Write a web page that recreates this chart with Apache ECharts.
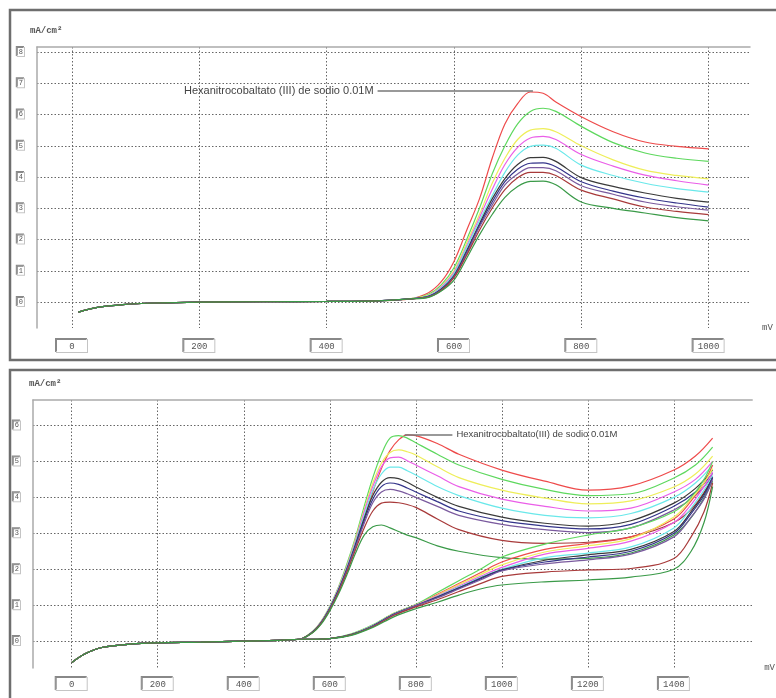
<!DOCTYPE html>
<html>
<head>
<meta charset="utf-8">
<script src="https://cdn.jsdelivr.net/npm/echarts@6/dist/echarts.min.js"></script>
<style>
  html, body { margin: 0; padding: 0; background: #fff; }
  #chart { width: 776px; height: 698px; }
</style>
</head>
<body>
<div id="chart"></div>
<script>
// ---- top panel: potential (mV) samples ----
const topX = [10, 40, 80, 130, 200, 300, 400, 480, 530, 560, 580, 600, 620, 640, 660, 680, 700, 720, 740, 760, 800, 850, 900, 950, 1000]
const topStart = [-0.32, -0.17, -0.08, -0.03, 0, 0.01, 0.02, 0.04, 0.1]
const topRed     = topStart.concat([0.3, 0.65, 1.3, 2.3, 3.3, 4.6, 5.7, 6.35, 6.72, 6.68, 6.4, 5.93, 5.45, 5.12, 4.98, 4.9])
const topGreen   = topStart.concat([0.25, 0.55, 1.1, 2.0, 3.0, 4.1, 5.0, 5.7, 6.1, 6.2, 6.1, 5.62, 5.1, 4.77, 4.6, 4.5])
const topYellow  = topStart.concat([0.22, 0.5, 1.0, 1.9, 2.8, 3.8, 4.6, 5.2, 5.5, 5.55, 5.45, 5.0, 4.55, 4.22, 4.05, 3.94])
const topMagenta = topStart.concat([0.2, 0.48, 0.95, 1.8, 2.7, 3.6, 4.4, 4.95, 5.25, 5.3, 5.2, 4.72, 4.35, 4.06, 3.88, 3.74])
const topCyan    = topStart.concat([0.2, 0.45, 0.9, 1.75, 2.6, 3.4, 4.15, 4.7, 4.98, 5.02, 4.92, 4.38, 4.05, 3.8, 3.63, 3.52])
const topBlack   = topStart.concat([0.18, 0.42, 0.85, 1.65, 2.5, 3.3, 3.95, 4.4, 4.62, 4.63, 4.5, 3.98, 3.7, 3.49, 3.32, 3.2])
const topNavy    = topStart.concat([0.18, 0.4, 0.82, 1.6, 2.45, 3.2, 3.85, 4.25, 4.44, 4.45, 4.33, 3.85, 3.55, 3.33, 3.17, 3.04])
const topPurple  = topStart.concat([0.17, 0.38, 0.8, 1.55, 2.4, 3.1, 3.75, 4.1, 4.3, 4.3, 4.2, 3.72, 3.45, 3.2, 3.05, 2.94])
const topMaroon  = topStart.concat([0.16, 0.37, 0.78, 1.5, 2.3, 3.0, 3.6, 3.98, 4.15, 4.15, 4.05, 3.58, 3.3, 3.04, 2.9, 2.8])
const topDkGreen = topStart.concat([0.15, 0.35, 0.7, 1.4, 2.15, 2.8, 3.35, 3.7, 3.86, 3.87, 3.75, 3.2, 3.0, 2.85, 2.7, 2.6])

// ---- bottom panel: upper branch ----
const botXA = [0, 30, 70, 140, 200, 300, 400, 480, 530, 560, 580, 600, 620, 640, 660, 680, 700, 720, 740, 760, 780, 800, 850, 900, 1000, 1100, 1200, 1300, 1400, 1450, 1490]
const botStart = [-0.6, -0.36, -0.18, -0.08, -0.05, -0.03, 0, 0.02, 0.05]
const upRed     = botStart.concat([0.25, 0.5, 0.9, 1.4, 2.0, 2.7, 3.4, 4.15, 4.8, 5.3, 5.6, 5.74, 5.72, 5.5, 5.2, 4.76, 4.45, 4.2, 4.32, 4.76, 5.15, 5.65])
const upGreen   = botStart.concat([0.27, 0.55, 0.97, 1.5, 2.15, 2.9, 3.75, 4.55, 5.2, 5.65, 5.72, 5.65, 5.52, 5.2, 4.9, 4.5, 4.22, 4.05, 4.1, 4.54, 4.9, 5.4])
const upYellow  = botStart.concat([0.27, 0.55, 0.96, 1.48, 2.1, 2.85, 3.65, 4.4, 4.95, 5.25, 5.32, 5.27, 5.18, 4.85, 4.55, 4.2, 3.98, 3.82, 3.9, 4.29, 4.65, 5.15])
const upMagenta = botStart.concat([0.26, 0.54, 0.95, 1.46, 2.08, 2.8, 3.6, 4.3, 4.85, 5.1, 5.12, 5.02, 4.9, 4.6, 4.3, 3.95, 3.75, 3.62, 3.7, 4.15, 4.5, 5.0])
const upCyan    = botStart.concat([0.26, 0.53, 0.94, 1.44, 2.05, 2.75, 3.5, 4.2, 4.65, 4.84, 4.84, 4.74, 4.62, 4.3, 4.05, 3.7, 3.5, 3.43, 3.55, 4.0, 4.4, 4.9])
const upBlack   = botStart.concat([0.25, 0.52, 0.92, 1.42, 2.02, 2.7, 3.42, 4.05, 4.42, 4.55, 4.52, 4.42, 4.29, 4.0, 3.75, 3.45, 3.28, 3.2, 3.35, 3.84, 4.25, 4.76])
const upNavy    = botStart.concat([0.25, 0.51, 0.9, 1.4, 2.0, 2.66, 3.35, 3.95, 4.3, 4.4, 4.36, 4.26, 4.15, 3.88, 3.62, 3.35, 3.2, 3.12, 3.25, 3.75, 4.15, 4.67])
const upPurple  = botStart.concat([0.24, 0.5, 0.89, 1.38, 1.97, 2.62, 3.28, 3.85, 4.15, 4.22, 4.18, 4.1, 4.0, 3.75, 3.5, 3.25, 3.1, 3.02, 3.15, 3.65, 4.05, 4.6])
const upMaroon  = botStart.concat([0.24, 0.49, 0.87, 1.35, 1.92, 2.55, 3.15, 3.62, 3.84, 3.87, 3.85, 3.8, 3.72, 3.4, 3.1, 2.8, 2.72, 2.75, 2.9, 3.3, 3.8, 4.55])
const upDkGreen = botStart.concat([0.23, 0.47, 0.84, 1.3, 1.85, 2.45, 2.95, 3.18, 3.23, 3.15, 3.05, 2.95, 2.88, 2.65, 2.5, 2.32, 2.28, 2.3, 2.45, 2.95, 3.6, 4.45])

// ---- bottom panel: lower branch ----
const botXB = [0, 30, 70, 140, 200, 300, 400, 480, 530, 560, 600, 650, 700, 750, 800, 850, 900, 950, 1000, 1100, 1200, 1300, 1400, 1440, 1470, 1490]
const loGreen   = botStart.concat([0.05, 0.07, 0.2, 0.45, 0.78, 1.02, 1.35, 1.68, 2.0, 2.34, 2.7, 2.95, 3.15, 3.6, 4.0, 4.5, 5.0])
const loRed     = botStart.concat([0.05, 0.07, 0.19, 0.44, 0.77, 1.01, 1.3, 1.6, 1.9, 2.2, 2.55, 2.72, 2.9, 3.4, 3.9, 4.4, 4.9])
const loYellow  = botStart.concat([0.05, 0.07, 0.19, 0.44, 0.77, 1.0, 1.28, 1.57, 1.85, 2.12, 2.48, 2.65, 2.85, 3.45, 3.95, 4.4, 4.8])
const loMagenta = botStart.concat([0.05, 0.07, 0.18, 0.43, 0.76, 1.0, 1.26, 1.53, 1.8, 2.05, 2.42, 2.58, 2.78, 3.3, 3.8, 4.3, 4.7])
const loCyan    = botStart.concat([0.05, 0.07, 0.18, 0.43, 0.76, 0.99, 1.24, 1.5, 1.77, 2.0, 2.32, 2.45, 2.62, 3.15, 3.7, 4.2, 4.6])
const loBlack   = botStart.concat([0.05, 0.07, 0.18, 0.42, 0.75, 0.99, 1.23, 1.48, 1.75, 1.98, 2.25, 2.4, 2.55, 3.05, 3.6, 4.1, 4.55])
const loNavy    = botStart.concat([0.05, 0.07, 0.18, 0.42, 0.75, 0.98, 1.22, 1.47, 1.73, 1.97, 2.2, 2.34, 2.5, 3.0, 3.55, 4.05, 4.55])
const loPurple  = botStart.concat([0.05, 0.07, 0.17, 0.41, 0.74, 0.98, 1.2, 1.45, 1.7, 1.95, 2.15, 2.26, 2.42, 2.9, 3.45, 3.95, 4.5])
const loMaroon  = botStart.concat([0.05, 0.07, 0.17, 0.4, 0.72, 0.95, 1.15, 1.38, 1.6, 1.8, 1.92, 1.98, 2.02, 2.3, 2.9, 3.6, 4.4])
const loDkGreen = botStart.concat([0.05, 0.07, 0.16, 0.38, 0.68, 0.9, 1.08, 1.28, 1.45, 1.56, 1.65, 1.7, 1.78, 2.0, 2.5, 3.3, 4.3])

const colors = ['#ee4b4b', '#5ed85e', '#eeee5a', '#ea5ee8', '#6ae8ea', '#3a3a3a', '#34348a', '#7a5a9e', '#a83a3a', '#3a9a48']
const topXTicks = [0, 200, 400, 600, 800, 1000]
const topYTicks = [0, 1, 2, 3, 4, 5, 6, 7, 8]
const botXTicks = [0, 200, 400, 600, 800, 1000, 1200, 1400]
const botYTicks = [0, 1, 2, 3, 4, 5, 6]
const noteTop = 'Hexanitrocobaltato (III) de sodio 0.01M'
const noteBot = 'Hexanitrocobaltato(III) de sodio 0.01M'

const topCurves = [topRed, topGreen, topYellow, topMagenta, topCyan, topBlack, topNavy, topPurple, topMaroon, topDkGreen]
const upCurves = [upRed, upGreen, upYellow, upMagenta, upCyan, upBlack, upNavy, upPurple, upMaroon, upDkGreen]
const loCurves = [loRed, loGreen, loYellow, loMagenta, loCyan, loBlack, loNavy, loPurple, loMaroon, loDkGreen]

const myChart = echarts.init(document.getElementById('chart'))

const pts = (xs, ys) => xs.map((x, i) => [x, ys[i]])

const boxLabel = (extra) => Object.assign({
  fontFamily: 'Liberation Mono',
  color: '#555',
  backgroundColor: '#fff',
  borderColor: '#c4c4c4',
  borderWidth: 1,
  shadowColor: '#888',
  shadowOffsetX: -1,
  shadowOffsetY: -1,
  shadowBlur: 0,
  formatter: (v) => String(v)
}, extra)

const gridLine = { show: true, lineStyle: { color: '#666', type: [1.5, 2], width: 1 } }

const xAxisMain = (gridIndex, min, max, ticks, margin) => ({
  type: 'value', gridIndex, min, max,
  name: 'mV', nameLocation: 'end', nameGap: 12,
  nameTextStyle: { fontFamily: 'Liberation Mono', fontSize: 9, color: '#555', align: 'left' },
  axisLine: { show: false, onZero: false },
  axisTick: { show: false, customValues: ticks },
  axisLabel: boxLabel({ customValues: ticks, fontSize: 9, margin, width: 22, align: 'center', padding: [2, 4, 1, 4] }),
  splitLine: gridLine
})

const xAxisTop = (gridIndex, min, max) => ({
  type: 'value', gridIndex, min, max, position: 'top',
  axisLine: { show: true, onZero: false, lineStyle: { color: '#aaa', width: 1.5 } },
  axisTick: { show: false }, axisLabel: { show: false }, splitLine: { show: false }
})

const yAxis = (gridIndex, min, max, ticks) => ({
  type: 'value', gridIndex, min, max,
  axisLine: { show: true, onZero: false, lineStyle: { color: '#aaa', width: 1.5 } },
  axisTick: { show: false, customValues: ticks },
  axisLabel: boxLabel({ customValues: ticks, fontSize: 7, margin: 13, padding: [1, 1, 0, 1] }),
  splitLine: gridLine
})

const series = []
topCurves.forEach((ys, i) => {
  const s = {
    type: 'line', xAxisIndex: 0, yAxisIndex: 0, data: pts(topX, ys),
    smooth: 0.35, showSymbol: false,
    lineStyle: { color: colors[i], width: 1.2 }
  }
  if (i === 0) {
    s.markLine = {
      silent: true, symbol: ['none', 'none'],
      lineStyle: { color: '#777', width: 1.5, type: 'solid' },
      label: { show: true, position: 'start', formatter: noteTop, distance: 4, fontFamily: 'Liberation Sans', fontSize: 11, color: '#444' },
      data: [[{ coord: [480, 6.75] }, { coord: [724, 6.75] }]]
    }
  }
  series.push(s)
})
upCurves.forEach((ys, i) => {
  const s = {
    type: 'line', xAxisIndex: 2, yAxisIndex: 1, data: pts(botXA, ys),
    smooth: 0.35, showSymbol: false,
    lineStyle: { color: colors[i], width: 1.2 }
  }
  if (i === 0) {
    s.markLine = {
      silent: true, symbol: ['none', 'none'],
      lineStyle: { color: '#777', width: 1.5, type: 'solid' },
      label: { show: true, position: 'end', formatter: noteBot, distance: 4, fontFamily: 'Liberation Sans', fontSize: 9.5, color: '#444' },
      data: [[{ coord: [774, 5.74] }, { coord: [885, 5.74] }]]
    }
  }
  series.push(s)
})
loCurves.forEach((ys, i) => {
  series.push({
    type: 'line', xAxisIndex: 2, yAxisIndex: 1, data: pts(botXB, ys),
    smooth: 0.35, showSymbol: false,
    lineStyle: { color: colors[i], width: 1.2 }
  })
})

const option = {
  animation: false,
  backgroundColor: '#fff',
  grid: [
    { left: 37, right: 26, top: 47, bottom: 370 },
    { left: 33, right: 19, top: 400, bottom: 30 }
  ],
  xAxis: [
    xAxisMain(0, -55, 1065, topXTicks, 12),
    xAxisTop(0, -55, 1065),
    xAxisMain(1, -90, 1582, botXTicks, 10),
    xAxisTop(1, -90, 1582)
  ],
  yAxis: [
    yAxis(0, -0.83, 8.16, topYTicks),
    yAxis(1, -0.75, 6.71, botYTicks)
  ],
  graphic: [
    { type: 'rect', shape: { x: 10, y: 10, width: 790, height: 350 }, style: { fill: 'none', stroke: '#6e6e6e', lineWidth: 2.5 }, silent: true },
    { type: 'rect', shape: { x: 10, y: 370, width: 790, height: 340 }, style: { fill: 'none', stroke: '#6e6e6e', lineWidth: 2.5 }, silent: true },
    { type: 'text', left: 30, top: 26, style: { text: 'mA/cm²', fontFamily: 'Liberation Mono', fontSize: 9, fontWeight: 'bold', fill: '#555' } },
    { type: 'text', left: 29, top: 379, style: { text: 'mA/cm²', fontFamily: 'Liberation Mono', fontSize: 9, fontWeight: 'bold', fill: '#555' } }
  ],
  series
}

option && myChart.setOption(option)

window.addEventListener('resize', function () {
  myChart.resize()
})
</script>
</body>
</html>
